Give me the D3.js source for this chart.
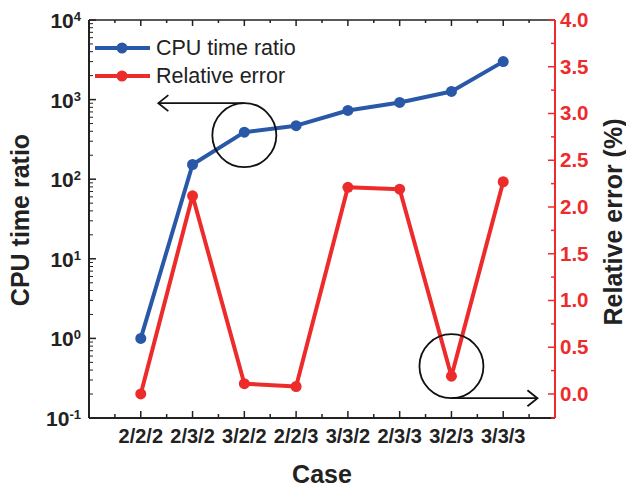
<!DOCTYPE html>
<html>
<head>
<meta charset="utf-8" />
<title>CPU time ratio and relative error</title>
<style>
  body { margin: 0; background: #fff; }
  svg text { font-family: "Liberation Sans", Arial, sans-serif; }
</style>
</head>
<body>
<div id="chart"></div>
<script src="https://d3js.org/d3.v7.min.js"></script>
<script>
// data
var cases = ["2/2/2", "2/3/2", "3/2/2", "2/2/3", "3/3/2", "2/3/3", "3/2/3", "3/3/3"];
var cpuRatio = [1.0, 153, 390, 470, 730, 920, 1265, 3000];
var relError = [0.0, 2.12, 0.11, 0.08, 2.21, 2.19, 0.19, 2.27];
var leftExps = [-1, 0, 1, 2, 3, 4];
var rightTicks = [0.0, 0.5, 1.0, 1.5, 2.0, 2.5, 3.0, 3.5, 4.0];

var W = 626, H = 490;
var margin = {left: 89, right: 71, top: 20, bottom: 72};
var blue = "#2a58a8", red = "#ee2b2b";

var svg = d3.select("#chart").append("svg")
  .attr("width", W).attr("height", H);

var x = d3.scaleLinear().domain([0, cases.length + 1]).range([margin.left, W - margin.right]);
var yL = d3.scaleLog().domain([0.1, 10000]).range([H - margin.bottom, margin.top]);
var yR = d3.scaleLinear().domain([-0.257, 4.0]).range([H - margin.bottom, margin.top]);

var x0 = margin.left, x1 = W - margin.right, yTop = margin.top, yBot = H - margin.bottom;

// x ticks: major at each case, minor halfway
var xMajor = d3.range(1, cases.length + 1);
var xMinor = d3.range(0.5, cases.length + 1, 1);

var g = svg.append("g");

// bottom axis
g.append("line").attr("x1", x0).attr("x2", x1).attr("y1", yBot).attr("y2", yBot)
  .attr("stroke", "#222").attr("stroke-width", 2);
// top frame
g.append("line").attr("x1", x0).attr("x2", x1).attr("y1", yTop).attr("y2", yTop)
  .attr("stroke", "#222").attr("stroke-width", 1.5);

xMajor.forEach(function(d){
  g.append("line").attr("x1", x(d)).attr("x2", x(d)).attr("y1", yBot).attr("y2", yBot - 7)
    .attr("stroke", "#222").attr("stroke-width", 1.5);
  g.append("line").attr("x1", x(d)).attr("x2", x(d)).attr("y1", yTop).attr("y2", yTop + 6)
    .attr("stroke", "#222").attr("stroke-width", 1.5);
});
xMinor.forEach(function(d){
  g.append("line").attr("x1", x(d)).attr("x2", x(d)).attr("y1", yBot).attr("y2", yBot - 4)
    .attr("stroke", "#222").attr("stroke-width", 1.5);
  g.append("line").attr("x1", x(d)).attr("x2", x(d)).attr("y1", yTop).attr("y2", yTop + 3)
    .attr("stroke", "#222").attr("stroke-width", 1.5);
});
g.selectAll(".xlab").data(cases).enter().append("text")
  .attr("x", function(d, i){ return x(i + 1); })
  .attr("y", 443)
  .attr("text-anchor", "middle")
  .attr("font-size", 20).attr("font-weight", "bold").attr("fill", "#222")
  .text(function(d){ return d; });

// left log axis
g.append("line").attr("x1", x0).attr("x2", x0).attr("y1", yTop).attr("y2", yBot)
  .attr("stroke", "#222").attr("stroke-width", 2);
leftExps.forEach(function(e){
  var v = Math.pow(10, e);
  g.append("line").attr("x1", x0).attr("x2", x0 + 7).attr("y1", yL(v)).attr("y2", yL(v))
    .attr("stroke", "#222").attr("stroke-width", 1.5);
  if (e < 4) {
    for (var k = 2; k <= 9; k++) {
      g.append("line").attr("x1", x0).attr("x2", x0 + 4)
        .attr("y1", yL(k * v)).attr("y2", yL(k * v))
        .attr("stroke", "#222").attr("stroke-width", 1);
    }
  }
  var t = g.append("text").attr("x", x0 - 8).attr("y", yL(v) + 8)
    .attr("text-anchor", "end").attr("font-weight", "bold").attr("fill", "#222");
  t.append("tspan").attr("font-size", 21).text("10");
  t.append("tspan").attr("font-size", 13).attr("dy", -7).text(e);
});

// right linear axis (red)
g.append("line").attr("x1", x1).attr("x2", x1).attr("y1", yTop).attr("y2", yBot)
  .attr("stroke", red).attr("stroke-width", 2);
rightTicks.forEach(function(v){
  g.append("line").attr("x1", x1).attr("x2", x1 - 7).attr("y1", yR(v)).attr("y2", yR(v))
    .attr("stroke", red).attr("stroke-width", 1.5);
  g.append("line").attr("x1", x1).attr("x2", x1 - 4).attr("y1", yR(v + 0.25)).attr("y2", yR(v + 0.25))
    .attr("stroke", red).attr("stroke-width", 1.5);
  g.append("text").attr("x", x1 + 5).attr("y", yR(v) + 7)
    .attr("font-size", 20.5).attr("font-weight", "bold").attr("fill", red)
    .text(v.toFixed(1));
});
g.append("line").attr("x1", x1).attr("x2", x1 - 4).attr("y1", yBot).attr("y2", yBot)
  .attr("stroke", red).attr("stroke-width", 1.5);

// axis titles
svg.append("text").attr("transform", "translate(29,220) rotate(-90)")
  .attr("text-anchor", "middle").attr("font-size", 25).attr("font-weight", "bold").attr("fill", "#222")
  .text("CPU time ratio");
svg.append("text").attr("transform", "translate(622,222) rotate(-90)")
  .attr("text-anchor", "middle").attr("font-size", 25).attr("font-weight", "bold").attr("fill", "#222")
  .text("Relative error (%)");
svg.append("text").attr("x", 322).attr("y", 483)
  .attr("text-anchor", "middle").attr("font-size", 25).attr("font-weight", "bold").attr("fill", "#222")
  .text("Case");

// series
var lineL = d3.line().x(function(d, i){ return x(i + 1); }).y(function(d){ return yL(d); });
var lineR = d3.line().x(function(d, i){ return x(i + 1); }).y(function(d){ return yR(d); });

svg.append("path").datum(relError).attr("d", lineR)
  .attr("fill", "none").attr("stroke", red).attr("stroke-width", 4).attr("stroke-linejoin", "round");
svg.selectAll(".pr").data(relError).enter().append("circle")
  .attr("cx", function(d, i){ return x(i + 1); }).attr("cy", function(d){ return yR(d); })
  .attr("r", 5.5).attr("fill", red);

svg.append("path").datum(cpuRatio).attr("d", lineL)
  .attr("fill", "none").attr("stroke", blue).attr("stroke-width", 4).attr("stroke-linejoin", "round");
svg.selectAll(".pb").data(cpuRatio).enter().append("circle")
  .attr("cx", function(d, i){ return x(i + 1); }).attr("cy", function(d){ return yL(d); })
  .attr("r", 5.5).attr("fill", blue);

// annotation circles + arrows
function callout(cx, cy, dir) {
  var r = 32;
  svg.append("circle").attr("cx", cx).attr("cy", cy).attr("r", r)
    .attr("fill", "none").attr("stroke", "#111").attr("stroke-width", 1.8);
  var ay = dir < 0 ? cy - r : cy + r;
  var ax = dir < 0 ? cx - 86 : cx + 86;
  svg.append("line").attr("x1", cx).attr("x2", ax).attr("y1", ay).attr("y2", ay)
    .attr("stroke", "#111").attr("stroke-width", 1.8);
  svg.append("path")
    .attr("d", "M" + (ax - dir * 10) + "," + (ay - 8) + "L" + ax + "," + ay + "L" + (ax - dir * 10) + "," + (ay + 8))
    .attr("fill", "none").attr("stroke", "#111").attr("stroke-width", 1.8);
}
callout(x(3), yL(cpuRatio[2]) + 3, -1);
callout(x(7), yR(relError[6]) - 10, 1);

// legend
var legend = [{name: "CPU time ratio", color: blue}, {name: "Relative error", color: red}];
legend.forEach(function(d, i){
  var ly = 48 + i * 28;
  svg.append("line").attr("x1", 95).attr("x2", 150).attr("y1", ly).attr("y2", ly)
    .attr("stroke", d.color).attr("stroke-width", 4);
  svg.append("circle").attr("cx", 122).attr("cy", ly).attr("r", 5.5).attr("fill", d.color);
  svg.append("text").attr("x", 156).attr("y", ly + 7).attr("font-size", 21.5).attr("fill", "#222")
    .text(d.name);
});
</script>
</body>
</html>
